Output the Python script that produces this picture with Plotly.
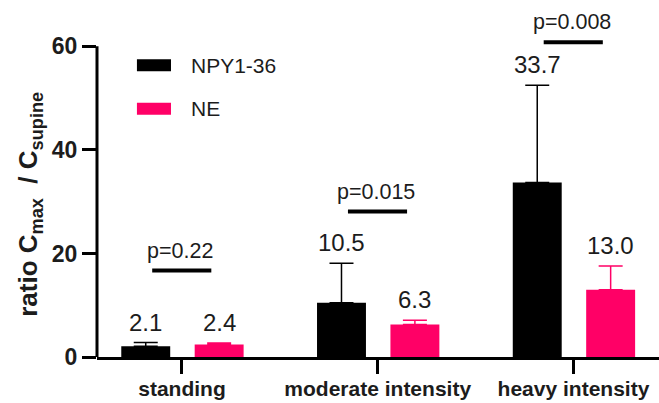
import plotly.graph_objects as go
import numpy as np

categories = ["standing", "moderate intensity", "heavy intensity"]
series_names = ["NPY1-36", "NE"]
npy_values = [2.1, 10.5, 33.7]
npy_err_plus = [0.7, 7.6, 18.8]
ne_values = [2.4, 6.3, 13.0]
ne_err_plus = [0.3, 0.8, 4.6]
p_labels = ["p=0.22", "p=0.015", "p=0.008"]
p_line_y = [16.7, 28.1, 60.8]
y_ticks = [0, 20, 40, 60]
y_title = "ratio C<sub>max</sub>\u00a0\u00a0/ C<sub>supine</sub>"

BLACK = "#000000"
PINK = "#FF0066"
TXT = "#1c1c1c"
FONT = "Arial"

x = np.arange(len(categories))
bw = 0.25
offs = [-0.31, 0.065]

fig = go.Figure()
for vals, errs, col, off, name in [
    (npy_values, npy_err_plus, BLACK, offs[0], series_names[0]),
    (ne_values, ne_err_plus, PINK, offs[1], series_names[1]),
]:
    fig.add_trace(go.Bar(
        x=x, y=vals, width=bw, offset=off, name=name,
        marker=dict(color=col, line=dict(width=0)),
        error_y=dict(type="data", array=errs, arrayminus=[0] * len(errs),
                     symmetric=False, color=col, thickness=1.5, width=12),
        showlegend=False,
    ))

annotations = []
shapes = []
# value labels
for vals, errs, off in [(npy_values, npy_err_plus, offs[0]), (ne_values, ne_err_plus, offs[1])]:
    for i, (v, e) in enumerate(zip(vals, errs)):
        annotations.append(dict(
            x=x[i] + off + bw / 2, y=v + e, xref="x", yref="y",
            text=f"{v:.1f}", showarrow=False, yanchor="bottom", yshift=5,
            font=dict(family=FONT, size=24, color=TXT)))

# significance lines + p labels
for i, (pl, py) in enumerate(zip(p_labels, p_line_y)):
    shapes.append(dict(type="line", xref="x", yref="y",
                       x0=x[i] - 0.152, x1=x[i] + 0.15, y0=py, y1=py,
                       line=dict(color=BLACK, width=4)))
    annotations.append(dict(
        x=x[i] - 0.01, y=py, xref="x", yref="y", text=pl, showarrow=False,
        yanchor="bottom", yshift=6,
        font=dict(family=FONT, size=21.5, color=TXT)))

# y axis line from 0 to 60
shapes.append(dict(type="line", xref="paper", yref="y", x0=0, x1=0,
                   y0=0, y1=60, line=dict(color=BLACK, width=3)))

# legend (manual)
leg_y = [56.35, 47.95]
for name, col, ly in zip(series_names, [BLACK, PINK], leg_y):
    shapes.append(dict(type="rect", xref="x", yref="y",
                       x0=-0.23, x1=-0.056, y0=ly - 1.15, y1=ly + 1.15,
                       fillcolor=col, line=dict(width=0)))
    annotations.append(dict(x=0.036, y=ly, xref="x", yref="y", text=name,
                            showarrow=False, xanchor="left", yanchor="middle",
                            font=dict(family=FONT, size=21, color=TXT)))

# y title as rotated annotation
annotations.append(dict(
    x=-0.12, y=29.5, xref="paper", yref="y", text=y_title, textangle=-90,
    showarrow=False, xanchor="center", yanchor="middle",
    font=dict(family=FONT, size=26, color=TXT, weight="bold")))

fig.update_layout(
    width=659, height=403,
    margin=dict(l=97, r=0, t=35.6, b=46),
    paper_bgcolor="white", plot_bgcolor="white",
    barmode="overlay",
    shapes=shapes, annotations=annotations,
    xaxis=dict(
        range=[-0.434, 2.437], tickvals=x.tolist(), ticktext=categories,
        showline=True, linecolor=BLACK, linewidth=3,
        ticks="outside", ticklen=14, tickwidth=3, tickcolor=BLACK,
        ticklabelstandoff=-3,
        tickfont=dict(family=FONT, size=21, color=TXT, weight="bold"),
        showgrid=False, zeroline=False,
    ),
    yaxis=dict(
        range=[0, 62], tickvals=y_ticks,
        showline=False,
        ticks="outside", ticklen=14, tickwidth=3, tickcolor=BLACK,
        tickfont=dict(family=FONT, size=23, color=TXT, weight="bold"),
        showgrid=False, zeroline=False,
    ),
)

fig.write_html("out.html")
